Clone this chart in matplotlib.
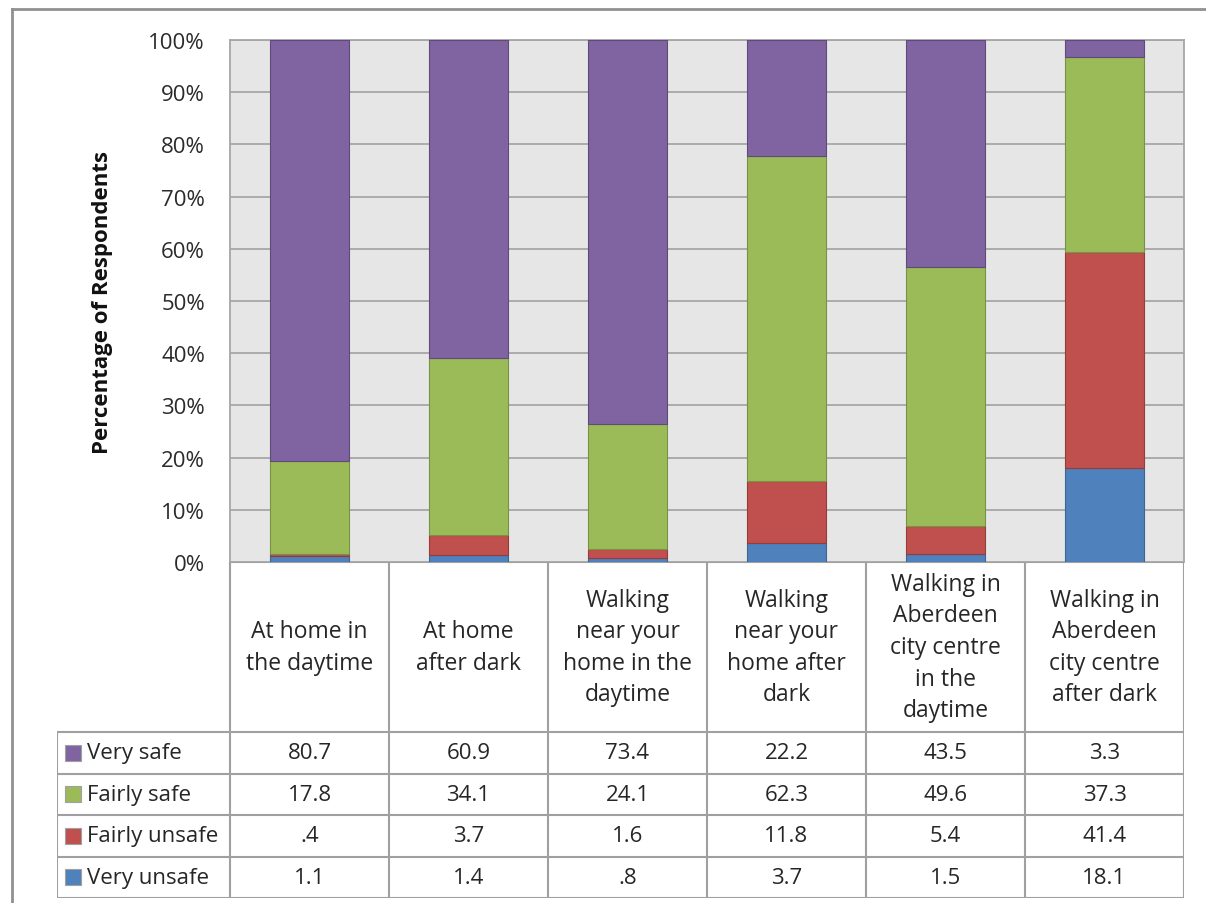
import numpy as np
import matplotlib.pyplot as plt
from matplotlib.patches import Rectangle

plt.rcParams["font.family"] = ["Open Sans", "DejaVu Sans"]

categories = [
    "At home in\nthe daytime",
    "At home\nafter dark",
    "Walking\nnear your\nhome in the\ndaytime",
    "Walking\nnear your\nhome after\ndark",
    "Walking in\nAberdeen\ncity centre\nin the\ndaytime",
    "Walking in\nAberdeen\ncity centre\nafter dark",
]
very_safe = [80.7, 60.9, 73.4, 22.2, 43.5, 3.3]
fairly_safe = [17.8, 34.1, 24.1, 62.3, 49.6, 37.3]
fairly_unsafe = [0.4, 3.7, 1.6, 11.8, 5.4, 41.4]
very_unsafe = [1.1, 1.4, 0.8, 3.7, 1.5, 18.1]

# bottom to top stacking order
series = [
    ("Very unsafe", very_unsafe, "#4F81BD", "#3A6596"),
    ("Fairly unsafe", fairly_unsafe, "#C0504D", "#953C3A"),
    ("Fairly safe", fairly_safe, "#9BBB59", "#789244"),
    ("Very safe", very_safe, "#8064A2", "#5F4A7A"),
]

W, H = 1206, 904
fig = plt.figure(figsize=(W / 100, H / 100), dpi=100)

# frame around the figure
fig.add_artist(plt.Line2D([11.5 / W, 11.5 / W], [0, 1 - 10 / H], color="#909090", lw=2))
fig.add_artist(plt.Line2D([11.5 / W, 1], [1 - 10 / H, 1 - 10 / H], color="#909090", lw=2))

left, right, top, bottom = 230, 1184, 41, 563
ax = fig.add_axes([left / W, 1 - bottom / H, (right - left) / W, (bottom - top) / H])
ax.set_facecolor("#E6E6E6")

x = np.arange(len(categories))
totals = np.sum([s[1] for s in series], axis=0)
base = np.zeros(len(categories))
for name, vals, col, edge in series:
    pct = np.array(vals) / totals
    ax.bar(x, pct, 0.5, bottom=base, color=col, edgecolor=edge, linewidth=0.8, zorder=3)
    base += pct

ax.set_xlim(-0.5, len(categories) - 0.5)
ax.set_ylim(0, 1)
ax.set_yticks(np.linspace(0, 1, 11))
ax.set_yticklabels([f"{int(round(t * 100))}%" for t in np.linspace(0, 1, 11)])
ax.set_xticks([])
ax.tick_params(axis="y", length=0, pad=18, labelsize=16, labelcolor="#2B2B2B")
ax.yaxis.grid(True, color="#A6A6A6", linewidth=1.3, zorder=0)
for side in ["left", "right", "top"]:
    ax.spines[side].set_color("#A6A6A6")
    ax.spines[side].set_linewidth(1.3)
ax.spines["bottom"].set_visible(False)
ax.set_ylabel("Percentage of Respondents", fontsize=16, fontweight="bold", color="#111111")
ax.yaxis.set_label_coords((113 - left) / (right - left), 0.5)

# data table under the chart
col_w = (right - left) / len(categories)
leg_left = 57
tab_bottom = 899
tab = fig.add_axes([leg_left / W, 1 - tab_bottom / H, (right - leg_left) / W, (tab_bottom - bottom) / H])
x0 = -0.5 - (left - leg_left) / col_w
tab.set_xlim(x0, len(categories) - 0.5)
header_h = 170
row_h = (tab_bottom - bottom - header_h) / 4
tab.set_ylim(tab_bottom - bottom, 0)
tab.axis("off")

grid_kw = dict(color="#A0A0A0", lw=1.5, solid_capstyle="projecting")
# vertical lines
for i in range(len(categories) + 1):
    tab.plot([i - 0.5, i - 0.5], [0, tab_bottom - bottom], **grid_kw)
tab.plot([x0, x0], [header_h, tab_bottom - bottom], **grid_kw)
# horizontal lines
tab.plot([-0.5, len(categories) - 0.5], [0, 0], **grid_kw)
for r in range(5):
    yy = header_h + r * row_h
    tab.plot([x0, len(categories) - 0.5], [yy, yy], **grid_kw)

for i, lab in enumerate(categories):
    tab.text(i, header_h / 2, lab, ha="center", va="center", fontsize=16.5,
             color="#262626", linespacing=1.42)


def fmt(v):
    s = f"{v:.1f}"
    return s[1:] if s.startswith("0") else s


square = 16 / col_w
for r, (name, vals, col, edge) in enumerate(series[::-1]):
    yc = header_h + (r + 0.5) * row_h
    tab.add_patch(Rectangle((x0 + 8 / col_w, yc - 8), square, 16, facecolor=col,
                            edgecolor="#A0A0A0", lw=0.8))
    tab.text(x0 + 30 / col_w, yc, name, ha="left", va="center", fontsize=16, color="#262626")
    for i, v in enumerate(vals):
        tab.text(i, yc, fmt(v), ha="center", va="center", fontsize=16, color="#262626")

fig.savefig("out.png", dpi=100)
